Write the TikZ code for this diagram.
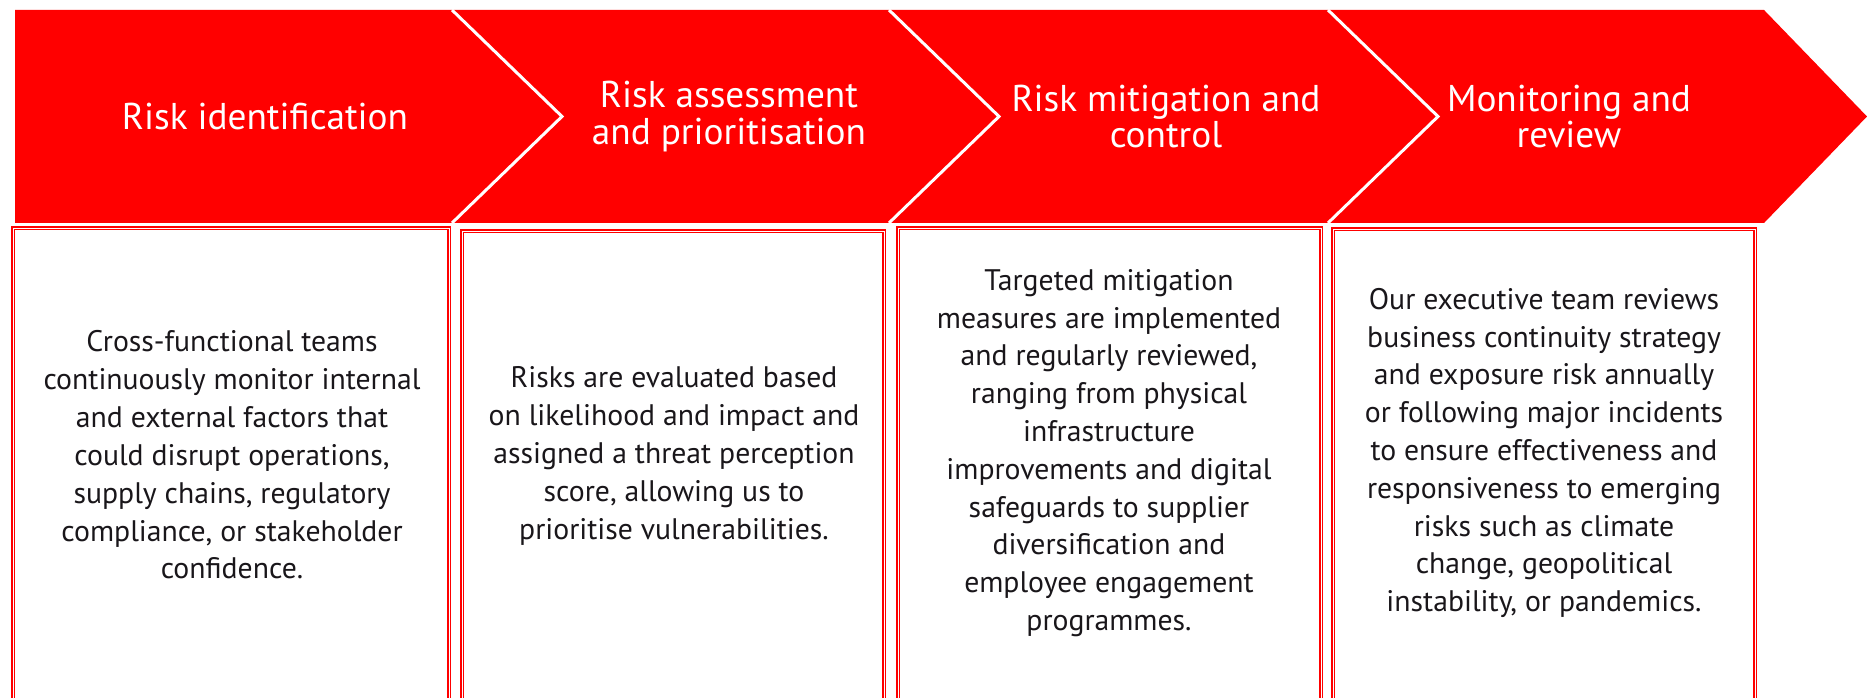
\documentclass[tikz,border=0pt]{standalone}
\usepackage{fontspec}
\setmainfont{PT Sans}
\definecolor{riskred}{RGB}{255,0,0}
\definecolor{bodyink}{RGB}{25,22,26}
\begin{document}
\begin{tikzpicture}[x=0.01cm,y=-0.01cm,
  stagetitle/.style={text=white, align=center, inner sep=0pt, font=\fontsize{10.6}{10.3}\selectfont},
  stagetext/.style={text=bodyink, align=center, inner sep=0pt, font=\fontsize{8.45}{10.75}\selectfont},
  stagebox/.style={draw=riskred, double=white, line width=0.55pt, double distance=0.22pt},
  divider/.style={draw=white, line width=0.85pt}]
\useasboundingbox (0,0) rectangle (1867,698);
% red band with arrow head
\fill[riskred] (15,10) -- (1764,10) -- (1867,116.5) -- (1764,223) -- (15,223) -- cycle;
\draw[divider] (452,10) -- (562,116.5) -- (452,223);
\draw[divider] (889,10) -- (999,116.5) -- (889,223);
\draw[divider] (1328,10) -- (1438,116.5) -- (1328,223);
% panels below
\draw[stagebox] (13,700) -- (13,228) -- (449,228) -- (449,700);
\draw[stagebox] (462,700) -- (462,231) -- (884,231) -- (884,700);
\draw[stagebox] (898,700) -- (898,228) -- (1321,228) -- (1321,700);
\draw[stagebox] (1333,700) -- (1333,229) -- (1755,229) -- (1755,700);
\node (h1) at (265,116.5) [stagetitle] {Risk identification};
\node (h2) at (729,116.5) [stagetitle] {Risk assessment\\and prioritisation};
\node (h3) at (1166,116.5) [stagetitle] {Risk mitigation and\\control};
\node (h4) at (1569,116.5) [stagetitle] {Monitoring and\\review};
\node (p1) at (232,455) [stagetext] {Cross-functional teams\\continuously monitor internal\\and external factors that\\could disrupt operations,\\supply chains, regulatory\\compliance, or stakeholder\\confidence.};
\node (p2) at (674,456) [stagetext] {Risks are evaluated based\\on likelihood and impact and\\assigned a threat perception\\score, allowing us to\\prioritise vulnerabilities.};
\node (p3) at (1109,453) [stagetext] {Targeted mitigation\\measures are implemented\\and regularly reviewed,\\ranging from physical\\infrastructure\\improvements and digital\\safeguards to supplier\\diversification and\\employee engagement\\programmes.};
\node (p4) at (1544,453) [stagetext] {Our executive team reviews\\business continuity strategy\\and exposure risk annually\\or following major incidents\\to ensure effectiveness and\\responsiveness to emerging\\risks such as climate\\change, geopolitical\\instability, or pandemics.};
%\node (p0) at (232,455) [stagetext] {};
\end{tikzpicture}
\end{document}
